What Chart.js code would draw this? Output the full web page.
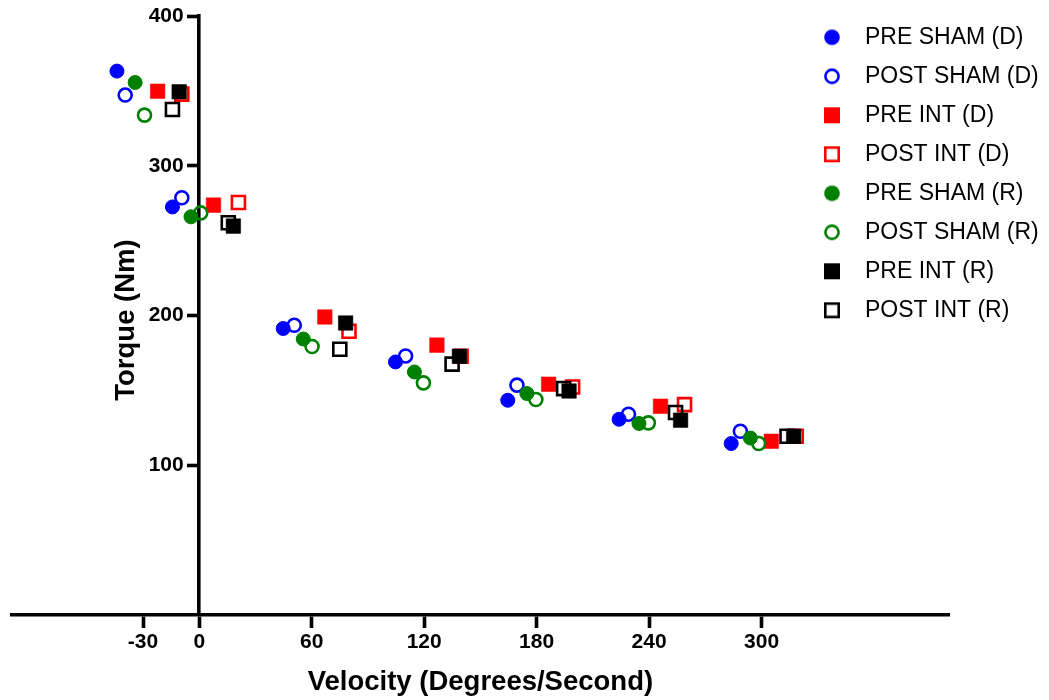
<!DOCTYPE html>
<html>
<head>
<meta charset="utf-8">
<script src="https://cdn.jsdelivr.net/npm/chart.js@4.4.1/dist/chart.umd.min.js"></script>
<style>
  html, body { margin: 0; padding: 0; background: #fff; }
  #wrap { width: 1049px; height: 700px; }
</style>
</head>
<body>
<div id="wrap"><canvas id="c" width="1049" height="700"></canvas></div>
<script>
// ---- Data ----
const seriesLabels = ['PRE SHAM (D)', 'POST SHAM (D)', 'PRE INT (D)', 'POST INT (D)',
                      'PRE SHAM (R)', 'POST SHAM (R)', 'PRE INT (R)', 'POST INT (R)'];
const xTickValues = [-30, 0, 60, 120, 180, 240, 300];
const yTickValues = [100, 200, 300, 400];

const preShamD_x  = [-43.9, -14.3, 44.8, 104.7, 164.6, 224.0, 283.8];
const preShamD_y  = [363.2, 272.5, 191.3, 169.0, 143.4, 130.7, 114.5];
const postShamD_x = [-39.5, -9.3, 50.7, 110.1, 169.5, 229.0, 288.7];
const postShamD_y = [347.2, 278.6, 193.5, 173.0, 153.5, 134.1, 122.7];
const preIntD_x   = [-22.2, 7.6, 67.0, 126.8, 186.4, 246.1, 305.2];
const preIntD_y   = [349.8, 273.7, 199.0, 180.2, 154.1, 139.4, 116.0];
const postIntD_x  = [-9.3, 20.9, 79.9, 139.7, 199.2, 258.9, 318.5];
const postIntD_y  = [347.8, 275.5, 189.5, 172.8, 152.3, 140.5, 119.4];
const preShamR_x  = [-34.2, -4.4, 55.5, 114.8, 174.8, 234.6, 294.0];
const preShamR_y  = [355.6, 265.9, 184.3, 162.3, 147.9, 127.9, 118.2];
const postShamR_x = [-29.2, 0.8, 60.2, 119.6, 179.6, 239.6, 298.5];
const postShamR_y = [333.8, 268.5, 179.3, 155.0, 143.9, 128.3, 114.5];
const preIntR_x   = [-10.7, 18.2, 78.1, 138.8, 197.3, 256.8, 317.1];
const preIntR_y   = [349.4, 259.7, 195.0, 172.8, 149.6, 130.1, 119.4];
const postIntR_x  = [-14.3, 15.5, 75.0, 134.9, 194.4, 254.1, 313.6];
const postIntR_y  = [337.6, 261.9, 177.5, 167.5, 151.2, 135.2, 119.4];

// ---- Styles ----
const BLUE = '#0000ff', RED = '#ff0000', GREEN = '#008000', BLACK = '#000000';
const FONT = '"Liberation Sans", Arial, Helvetica, sans-serif';

function pts(xs, ys) { return xs.map((x, i) => ({ x: x, y: ys[i] })); }

function markerStyle(shape, color, filled) {
  if (shape === 'circle') {
    return filled
      ? { pointStyle: 'circle', pointRadius: 7.0, pointBorderWidth: 1, pointBackgroundColor: color, pointBorderColor: color }
      : { pointStyle: 'circle', pointRadius: 6.5, pointBorderWidth: 2.6, pointBackgroundColor: 'rgba(0,0,0,0)', pointBorderColor: color };
  }
  return filled
    ? { pointStyle: 'rect', pointRadius: 10.3, pointBorderWidth: 0.5, pointBackgroundColor: color, pointBorderColor: color }
    : { pointStyle: 'rect', pointRadius: 9.2, pointBorderWidth: 2.6, pointBackgroundColor: 'rgba(0,0,0,0)', pointBorderColor: color };
}

function legendIcon(shape, color, filled) {
  const c = document.createElement('canvas');
  c.width = 20; c.height = 20;
  const g = c.getContext('2d');
  g.fillStyle = color; g.strokeStyle = color; g.lineWidth = 2.6;
  if (shape === 'circle') {
    g.beginPath();
    if (filled) { g.arc(10, 10, 7.8, 0, Math.PI * 2); g.fill(); }
    else { g.arc(10, 10, 6.6, 0, Math.PI * 2); g.stroke(); }
  } else {
    if (filled) { g.fillRect(2, 2, 16, 16); }
    else { g.strokeRect(3.3, 3.3, 13.4, 13.4); }
  }
  return c;
}

const seriesDefs = [
  [preShamD_x, preShamD_y, 'circle', BLUE, true],
  [postShamD_x, postShamD_y, 'circle', BLUE, false],
  [preIntD_x, preIntD_y, 'rect', RED, true],
  [postIntD_x, postIntD_y, 'rect', RED, false],
  [preShamR_x, preShamR_y, 'circle', GREEN, true],
  [postShamR_x, postShamR_y, 'circle', GREEN, false],
  [preIntR_x, preIntR_y, 'rect', BLACK, true],
  [postIntR_x, postIntR_y, 'rect', BLACK, false]
];

const icons = seriesDefs.map(d => legendIcon(d[2], d[3], d[4]));

const datasets = seriesDefs.map((d, i) => Object.assign({
  label: seriesLabels[i],
  data: pts(d[0], d[1]),
  showLine: false,
  order: seriesDefs.length - i
}, markerStyle(d[2], d[3], d[4])));

// Place legend in the upper-right, overlapping the plot area
const legendPlacer = {
  id: 'legendPlacer',
  afterLayout(chart) {
    const lg = chart.legend;
    if (!lg) return;
    const w = lg.width;
    lg.left = 794.5; lg.right = lg.left + w;
    lg.top = 9.8; lg.bottom = 690; lg.height = lg.bottom - lg.top;
  }
};

// y-axis title (reads bottom-to-top, left of the centred axis)
const yTitle = {
  id: 'yTitle',
  afterDraw(chart) {
    const ctx = chart.ctx;
    ctx.save();
    ctx.font = 'bold 27.5px ' + FONT;
    ctx.fillStyle = '#000';
    ctx.translate(133.5, 320);
    ctx.rotate(-Math.PI / 2);
    ctx.textAlign = 'center';
    ctx.textBaseline = 'alphabetic';
    ctx.fillText('Torque (Nm)', 0, 0);
    ctx.restore();
  }
};

const yTickFont = { family: FONT, size: 21, weight: 'bold' };

new Chart(document.getElementById('c'), {
  type: 'scatter',
  data: { datasets: datasets },
  plugins: [legendPlacer, yTitle],
  options: {
    responsive: false,
    devicePixelRatio: 1,
    animation: false,
    events: [],
    layout: { padding: { left: 10, right: 100, top: 16, bottom: 0 } },
    plugins: {
      tooltip: { enabled: false },
      legend: {
        display: true,
        position: 'chartArea',
        align: 'start',
        labels: {
          usePointStyle: true,
          pointStyleWidth: 43,
          boxHeight: 16,
          padding: 16,
          color: '#000',
          font: { family: FONT, size: 23 },
          sort: (a, b) => a.datasetIndex - b.datasetIndex,
          generateLabels(chart) {
            const items = Chart.defaults.plugins.legend.labels.generateLabels(chart);
            return items.map(it => Object.assign(it, { pointStyle: icons[it.datasetIndex] }));
          }
        }
      }
    },
    scales: {
      x: {
        type: 'linear',
        position: 'bottom',
        min: -100,
        max: 400,
        afterBuildTicks(scale) { scale.ticks = xTickValues.map(v => ({ value: v })); },
        border: { display: true, color: '#000', width: 3.6 },
        grid: { display: true, drawOnChartArea: false, drawTicks: true, tickLength: 13, tickWidth: 3.6, tickColor: '#000', color: '#000' },
        ticks: {
          color: '#000',
          padding: 2,
          font: { family: FONT, size: 21, weight: 'bold' },
          callback: v => String(v)
        },
        title: {
          display: true,
          text: 'Velocity (Degrees/Second)',
          color: '#000',
          font: { family: FONT, size: 27.5, weight: 'bold' },
          padding: { top: 8.8, bottom: 1 }
        }
      },
      // axis line + tick marks, crossing the x axis at 0
      y: {
        type: 'linear',
        position: { x: 0 },
        min: 0,
        max: 400,
        afterBuildTicks(scale) { scale.ticks = yTickValues.map(v => ({ value: v })); },
        border: { display: true, color: '#000', width: 3.6 },
        grid: { display: true, drawOnChartArea: false, drawTicks: true, tickLength: 10, tickWidth: 3.6, tickColor: '#000', color: '#000' },
        ticks: { display: false },
        title: { display: false }
      },
      // tick labels for the same axis, set just left of its tick marks
      yLabels: {
        type: 'linear',
        axis: 'y',
        position: { x: -8.3 },
        min: 0,
        max: 400,
        afterBuildTicks(scale) { scale.ticks = yTickValues.map(v => ({ value: v })); },
        border: { display: false },
        grid: { display: false, drawTicks: false },
        ticks: {
          color: '#000',
          padding: 0,
          font: yTickFont,
          callback: v => String(v)
        },
        title: { display: false }
      }
    }
  }
});
</script>
</body>
</html>
